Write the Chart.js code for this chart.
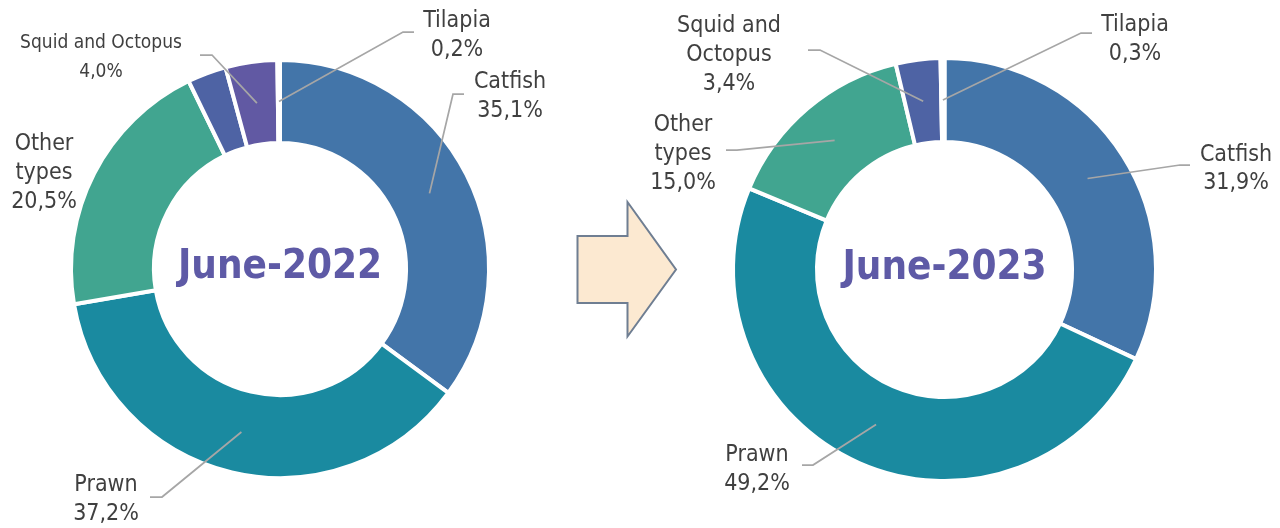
<!DOCTYPE html>
<html>
<head>
<meta charset="utf-8">
<script src="https://cdn.jsdelivr.net/npm/chart.js@4/dist/chart.umd.min.js"></script>
<style>
  html, body { margin: 0; padding: 0; background: #fff; }
  #wrap { position: relative; width: 1280px; height: 528px; overflow: hidden; }
  canvas { position: absolute; top: 0; }
  #c2022 { left: 0; }
  #c2023 { left: 640px; }
  #arrow { position: absolute; left: 0; top: 0; }
</style>
</head>
<body>
<div id="wrap">
  <canvas id="c2022" width="640" height="528"></canvas>
  <canvas id="c2023" width="640" height="528"></canvas>
  <svg id="arrow" width="1280" height="528">
    <polygon points="577.5,236 627.5,236 627.5,202 676,269.5 627.5,336.5 627.5,303 577.5,303"
             fill="#fce9d1" stroke="#6f7e92" stroke-width="2" stroke-linejoin="miter"/>
  </svg>
</div>
<script>
// ─── DATA ─────────────────────────────────────────────────────────────────────
const titles = ["June-2022", "June-2023"]

const categories2022 = ["Catfish", "Prawn", "Other types", "", "Squid and Octopus", "Tilapia"]
const values2022     = [35.1, 37.2, 20.5, 3.0, 4.0, 0.2]
const colors2022     = ["#4375a9", "#1a8aa0", "#41a590", "#4e63a4", "#6159a3", "#7b6fb3"]

const categories2023 = ["Catfish", "Prawn", "Other types", "Squid and Octopus", "Tilapia"]
const values2023     = [31.9, 49.2, 15.0, 3.4, 0.3]
const colors2023     = ["#4375a9", "#1a8aa0", "#41a590", "#4e63a4", "#6159a3"]

// ─── LABEL LAYOUT (canvas px) ─────────────────────────────────────────────────
// x = text centre, y = first baseline, lh = line height, lead = [elbow, end]
const layout2022 = [
  { i: 0, name: ["Catfish"],           x: 510, y: 88,  lh: 29, size: 23, lead: [[453, 94], [464, 94]] },
  { i: 1, name: ["Prawn"],             x: 106, y: 491, lh: 29, size: 23, lead: [[162, 497], [150, 497]] },
  { i: 2, name: ["Other", "types"],    x: 44,  y: 150, lh: 29, size: 23, lead: null },
  { i: 4, name: ["Squid and Octopus"], x: 101, y: 48,  lh: 28.5, size: 19, lead: [[212, 55], [200, 55]] },
  { i: 5, name: ["Tilapia"],           x: 457, y: 27,  lh: 28.5, size: 23, lead: [[403, 32], [414, 32]] },
]
const layout2023 = [
  { i: 0, name: ["Catfish"],              x: 596, y: 161, lh: 28, size: 23, lead: [[540, 165], [550, 165]] },
  { i: 1, name: ["Prawn"],                x: 117, y: 461, lh: 29, size: 23, lead: [[173, 465], [162, 465]] },
  { i: 2, name: ["Other", "types"],       x: 43,  y: 131, lh: 29, size: 23, lead: [[97, 150], [86, 150]] },
  { i: 3, name: ["Squid and", "Octopus"], x: 89,  y: 32,  lh: 29, size: 23, lead: [[180, 50], [168, 50]] },
  { i: 4, name: ["Tilapia"],              x: 495, y: 31,  lh: 28.5, size: 23, lead: [[441, 33], [452, 33]] },
]

const FONT = '"DejaVu Sans Condensed", "DejaVu Sans", sans-serif'
const pct = v => v.toFixed(1).replace(".", ",") + "%"

// ─── PLUGIN: centre title + leader-line labels ────────────────────────────────
const leaderLabels = {
  id: "leaderLabels",
  afterDraw(chart, args, opts) {
    const ctx = chart.ctx
    const meta = chart.getDatasetMeta(0)
    const values = chart.data.datasets[0].data
    ctx.save()

    // centre title
    const arc0 = meta.data[0]
    ctx.font = "bold 40px " + FONT
    ctx.fillStyle = "#5e5aa6"
    ctx.textAlign = "center"
    ctx.textBaseline = "alphabetic"
    ctx.fillText(opts.title, arc0.x, arc0.y + 9)

    opts.layout.forEach(l => {
      const arc = meta.data[l.i]
      if (l.lead) {
        const p = arc.getCenterPoint()
        ctx.beginPath()
        ctx.moveTo(p.x, p.y)
        l.lead.forEach(pt => ctx.lineTo(pt[0], pt[1]))
        ctx.strokeStyle = "#a6a6a6"
        ctx.lineWidth = 1.75
        ctx.stroke()
      }
      const lines = [...l.name, pct(values[l.i])]
      ctx.font = l.size + "px " + FONT
      ctx.fillStyle = "#404040"
      lines.forEach((t, k) => ctx.fillText(t, l.x, l.y + k * l.lh))
    })
    ctx.restore()
  }
}

function makeDonut(id, labels, data, colors, title, layout, pad, radius, cutout) {
  return new Chart(document.getElementById(id), {
    type: "doughnut",
    data: {
      labels: labels,
      datasets: [{
        data: data,
        backgroundColor: colors,
        borderColor: "#ffffff",
        borderWidth: 4,
      }]
    },
    options: {
      responsive: false,
      animation: false,
      radius: radius,
      cutout: cutout,
      layout: { padding: pad },
      plugins: {
        legend:  { display: false },
        tooltip: { enabled: false },
        leaderLabels: { title: title, layout: layout },
      },
    },
    plugins: [leaderLabels],
  })
}

makeDonut("c2022", categories2022, values2022, colors2022, titles[0], layout2022,
  { left: 0, right: 80, top: 10, bottom: 0 }, 209, "60.3%")
makeDonut("c2023", categories2023, values2023, colors2023, titles[1], layout2023,
  { left: 0, right: 31, top: 11, bottom: 0 }, 211.5, "60.3%")
</script>
</body>
</html>
